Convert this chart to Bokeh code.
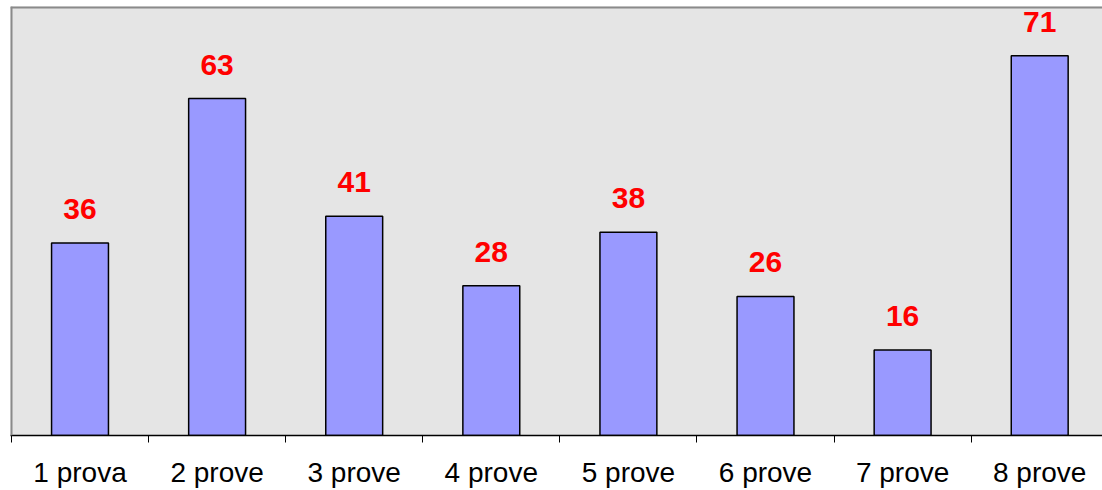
from bokeh.plotting import figure
from bokeh.models import ColumnDataSource, FixedTicker, Range1d, Span
from bokeh.embed import file_html
from bokeh.resources import INLINE
from bokeh.core.properties import value

categories = ["1 prova", "2 prove", "3 prove", "4 prove", "5 prove", "6 prove", "7 prove", "8 prove"]
values = [36, 63, 41, 28, 38, 26, 16, 71]

x = [i + 0.5 for i in range(len(categories))]
src = ColumnDataSource(dict(x=x, top=values, label=[str(v) for v in values]))

p = figure(width=1102, height=490, output_backend="svg", toolbar_location=None,
           x_range=Range1d(-0.007, 7.958), y_range=Range1d(0, 80.2),
           min_border_left=10, min_border_right=0, min_border_top=6, min_border_bottom=0)
p.background_fill_color = "#E5E5E5"
p.border_fill_color = "white"
p.outline_line_color = None
p.xgrid.visible = False
p.ygrid.visible = False
p.yaxis.visible = False

p.vbar(x="x", top="top", bottom=0, width=0.415, source=src,
       fill_color="#9999FF", line_color="black", line_width=1.5)
p.text(x="x", y="top", text="label", source=src, y_offset=-34,
       text_align="center", text_baseline="alphabetic",
       text_font=value("Liberation Sans"), text_font_style="bold",
       text_font_size="30px", text_color="#FF0000")

ax = p.xaxis[0]
ax.ticker = FixedTicker(ticks=x, minor_ticks=list(range(len(categories) + 1)))
ax.major_label_overrides = {xi: c for xi, c in zip(x, categories)}
ax.major_tick_line_color = None
ax.major_tick_out = 0
ax.major_tick_in = 0
ax.minor_tick_out = 7
ax.minor_tick_in = 0
ax.minor_tick_line_color = "black"
ax.axis_line_color = "black"
ax.axis_line_width = 1.5
ax.major_label_text_font = "Liberation Sans"
ax.major_label_text_font_size = "28px"
ax.major_label_text_color = "black"
ax.major_label_standoff = 14

p.add_layout(Span(location=80.2, dimension="width", line_color="#8A8A8A", line_width=4))
p.add_layout(Span(location=-0.007, dimension="height", line_color="#8A8A8A", line_width=4))

open("out.html", "w").write(file_html(p, INLINE))
